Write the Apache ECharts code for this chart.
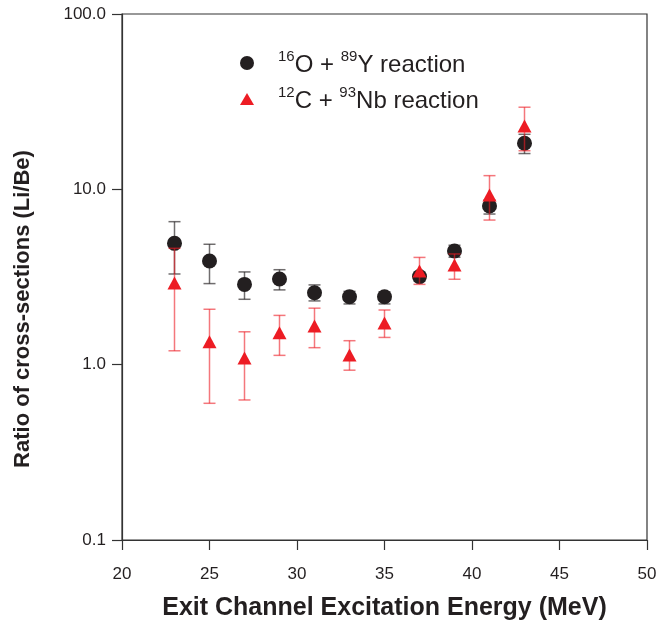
<!DOCTYPE html>
<html>
<head>
<meta charset="utf-8">
<script src="https://cdn.jsdelivr.net/npm/echarts@6/dist/echarts.min.js"></script>
<style>html,body{margin:0;padding:0;background:#fff;}#c{width:659px;height:629px;}</style>
</head>
<body>
<div id="c"></div>
<script>
var energy = [23, 25, 27, 29, 31, 33, 35, 37, 39, 41, 43];
var oyVal  = [4.92, 3.90, 2.87, 3.08, 2.57, 2.44, 2.44, 3.18, 4.45, 8.03, 18.3];
var oyLow  = [3.29, 2.90, 2.36, 2.67, 2.31, 2.22, 2.22, 3.00, 4.10, 7.23, 16.0];
var oyHigh = [6.54, 4.86, 3.38, 3.48, 2.85, 2.62, 2.60, 3.35, 4.80, 8.70, 20.6];
var cnVal  = [2.92, 1.35, 1.09, 1.52, 1.66, 1.135, 1.73, 3.42, 3.70, 9.28, 23.0];
var cnLow  = [1.20, 0.602, 0.629, 1.13, 1.25, 0.93, 1.43, 2.87, 3.07, 6.68, 16.6];
var cnHigh = [4.61, 2.07, 1.54, 1.91, 2.10, 1.37, 2.05, 4.09, 4.28, 11.97, 29.4];
var xTicks = [20, 25, 30, 35, 40, 45, 50];
var yTicks = [0.1, 1, 10, 100];

var chart = echarts.init(document.getElementById('c'), null, {renderer: 'canvas'});

function pts(v) { return energy.map(function (e, i) { return [e, v[i]]; }); }
function errData(lo, hi) { return energy.map(function (e, i) { return [e, lo[i], hi[i]]; }); }
function errRender(color, opacity) {
  return function (params, api) {
    var x = api.value(0);
    var p1 = api.coord([x, api.value(1)]);
    var p2 = api.coord([x, api.value(2)]);
    var w = 6;
    var st = {stroke: color, lineWidth: 1.5, opacity: opacity};
    return {type: 'group', children: [
      {type: 'line', shape: {x1: p1[0], y1: p1[1], x2: p2[0], y2: p2[1]}, style: st},
      {type: 'line', shape: {x1: p1[0] - w, y1: p1[1], x2: p1[0] + w, y2: p1[1]}, style: st},
      {type: 'line', shape: {x1: p2[0] - w, y1: p2[1], x2: p2[0] + w, y2: p2[1]}, style: st}
    ]};
  };
}

var font = '"Liberation Sans", Arial, Helvetica, sans-serif';
var axisColor = '#333';
var textColor = '#231f20';
var richLegend = {
  n: {fontFamily: font, fontSize: 24, fill: textColor, verticalAlign: 'bottom', lineHeight: 28},
  s: {fontFamily: font, fontSize: 15, fill: textColor, verticalAlign: 'top', lineHeight: 15}
};

chart.setOption({
  animation: false,
  backgroundColor: '#fff',
  grid: {left: 122, right: 12, top: 14, bottom: 89, containLabel: false, outerBoundsMode: 'none',
    show: true, borderColor: axisColor, borderWidth: 1.2, backgroundColor: 'transparent'},
  xAxis: {
    type: 'value', min: 20, max: 50, interval: 5,
    name: 'Exit Channel Excitation Energy (MeV)', nameLocation: 'middle', nameGap: 56,
    nameTextStyle: {fontFamily: font, fontWeight: 'bold', fontSize: 25, color: textColor},
    axisLine: {show: true, lineStyle: {color: axisColor, width: 1.2}},
    axisTick: {show: true, length: 10, inside: false, lineStyle: {color: axisColor, width: 1.2}},
    axisLabel: {fontFamily: font, fontSize: 17, color: textColor, margin: 26,
      formatter: function (v) { return xTicks.indexOf(v) >= 0 ? String(v) : ''; }},
    splitLine: {show: false}
  },
  yAxis: {
    type: 'log', logBase: 10, min: 0.1, max: 100,
    axisLine: {show: true, lineStyle: {color: axisColor, width: 1.2}},
    axisTick: {show: true, length: 10, inside: false, lineStyle: {color: axisColor, width: 1.2}},
    minorTick: {show: false},
    axisLabel: {fontFamily: font, fontSize: 17, color: textColor, margin: 16,
      formatter: function (v) {
        for (var i = 0; i < yTicks.length; i++) { if (Math.abs(v - yTicks[i]) < 1e-9 * yTicks[i]) return yTicks[i].toFixed(1); }
        return '';
      }},
    splitLine: {show: false}
  },
  series: [
    {type: 'custom', name: 'oyErr', renderItem: errRender('#231f20', 0.65), data: errData(oyLow, oyHigh), encode: {x: 0, y: [1, 2]}, z: 2},
    {type: 'scatter', name: '16O + 89Y reaction', data: pts(oyVal), symbol: 'circle', symbolSize: 15,
      itemStyle: {color: '#231f20', opacity: 1}, z: 3},
    {type: 'scatter', name: '12C + 93Nb reaction', data: pts(cnVal), symbol: 'triangle', symbolSize: [14, 13],
      itemStyle: {color: '#ed1c24', opacity: 1}, z: 4},
    {type: 'custom', name: 'cnErr', renderItem: errRender('#ed1c24', 0.6), data: errData(cnLow, cnHigh), encode: {x: 0, y: [1, 2]}, z: 5}
  ],
  graphic: [
    {type: 'text', x: 23, y: 309, rotation: Math.PI / 2, style: {
      text: 'Ratio of cross-sections (Li/Be)', fontFamily: font, fontWeight: 'bold', fontSize: 22,
      fill: textColor, align: 'center', verticalAlign: 'middle'}},
    {type: 'circle', left: 240, top: 56, shape: {r: 7}, style: {fill: '#231f20'}},
    {type: 'polygon', shape: {points: [[247, 93], [240, 105], [254, 105]]}, style: {fill: '#ed1c24'}},
    {type: 'text', left: 278, top: 49, style: {text: '{s|16}{n|O + }{s|89}{n|Y reaction}', rich: richLegend}},
    {type: 'text', left: 278, top: 85, style: {text: '{s|12}{n|C + }{s|93}{n|Nb reaction}', rich: richLegend}}
  ]
});
</script>
</body>
</html>
